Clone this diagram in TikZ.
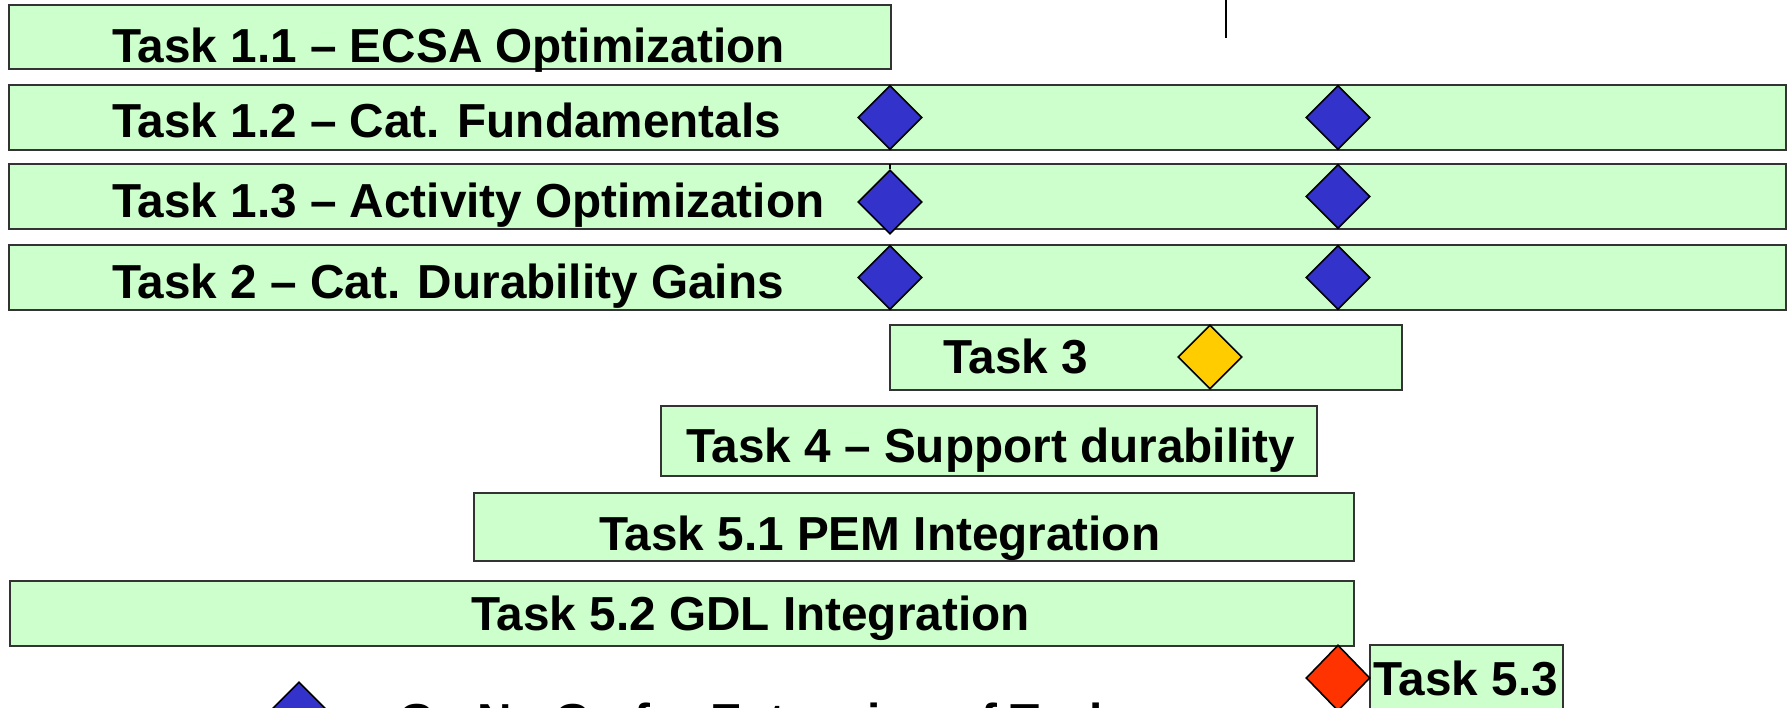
\documentclass[tikz,border=0pt]{standalone}
\usepackage{fontspec}
\setmainfont{Liberation Sans}
\usetikzlibrary{shapes.geometric}
\definecolor{barfill}{HTML}{CCFFCC}
\definecolor{msblue}{HTML}{3333CC}
\definecolor{msyellow}{HTML}{FFCC00}
\definecolor{msred}{HTML}{FF3300}
\tikzset{
  bar/.style={draw=black!80, line width=2pt, fill=barfill, rectangle, inner sep=0pt},
  lbl/.style={anchor=base west, inner sep=0pt, font=\fontsize{47.7}{50}\selectfont\bfseries},
  gem/.style={diamond, draw=black, line width=1.6pt, inner sep=0pt, minimum width=64pt, minimum height=64pt, aspect=1},
}
\newcommand{\barbox}[5]{% name, x1,y1,x2,y2
  \node[bar, minimum width={(#4-#2)*1pt}, minimum height={(#5-#3)*1pt}] (#1) at ({(#2+#4)/2},{(#3+#5)/2}) {};}
\begin{document}
\begin{tikzpicture}[x=1pt,y=-1pt]
\useasboundingbox (0,0) rectangle (1788,707);
\clip (0,0) rectangle (1788,707);
\fill[white] (0,0) rectangle (1788,707);
% top tick line
\coordinate (tk1) at (1226,0);
\coordinate (tk2) at (1226,38);
\draw[line width=1.5pt] (tk1) -- (tk2);
% bars
\barbox{b11}{9}{5}{891}{69}
\barbox{b12}{9}{85}{1786}{150}
\barbox{b13}{9}{164}{1786}{229}
\barbox{b2}{9}{245}{1786}{310}
\barbox{b3}{890}{325}{1402}{390}
\barbox{b4}{661}{406}{1317}{476}
\barbox{b51}{474}{493}{1354}{561}
\barbox{b52}{10}{581}{1354}{646}
\barbox{b53}{1370}{645}{1563}{760}
% labels
\node[lbl] (t11) at (112,62) {Task 1.1 – ECSA Optimization};
\node[lbl] (t12) at (112,137) {Task 1.2 – Cat. Fundamentals};
\node[lbl] (t13) at (112,217) {Task 1.3 – Activity Optimization};
\node[lbl] (t2) at (112,298) {Task 2 – Cat. Durability Gains};
\node[lbl] (t3) at (943,373) {Task 3};
\node[lbl] (t4) at (686,462) {Task 4 – Support durability};
\node[lbl] (t51) at (599,550) {Task 5.1 PEM Integration};
\node[lbl] (t52) at (471,630) {Task 5.2 GDL Integration};
\node[lbl] (t53) at (1373,695) {Task 5.3};
% milestones
\node[gem, fill=msblue] (d12a) at (890,117.5) {};
\node[gem, fill=msblue] (d12b) at (1338,117.5) {};
\coordinate (stem1) at (890,164);
\node[gem, fill=msblue] (d13a) at (890,202) {};
\draw[line width=1.6pt] (stem1) -- (d13a.north);
\node[gem, fill=msblue] (d13b) at (1338,196.5) {};
\node[gem, fill=msblue] (d2a) at (890,277.5) {};
\node[gem, fill=msblue] (d2b) at (1338,277.5) {};
\node[gem, fill=msyellow] (d3) at (1210,357) {};
\node[gem, fill=msred, minimum width=64pt, minimum height=66pt] (d5) at (1338,678) {};
% legend
\node[gem, fill=msblue] (leg) at (299,714) {};
\node[lbl] (legt) at (398,737) {Go No Go for Extension of Tasks};
\end{tikzpicture}
\end{document}
